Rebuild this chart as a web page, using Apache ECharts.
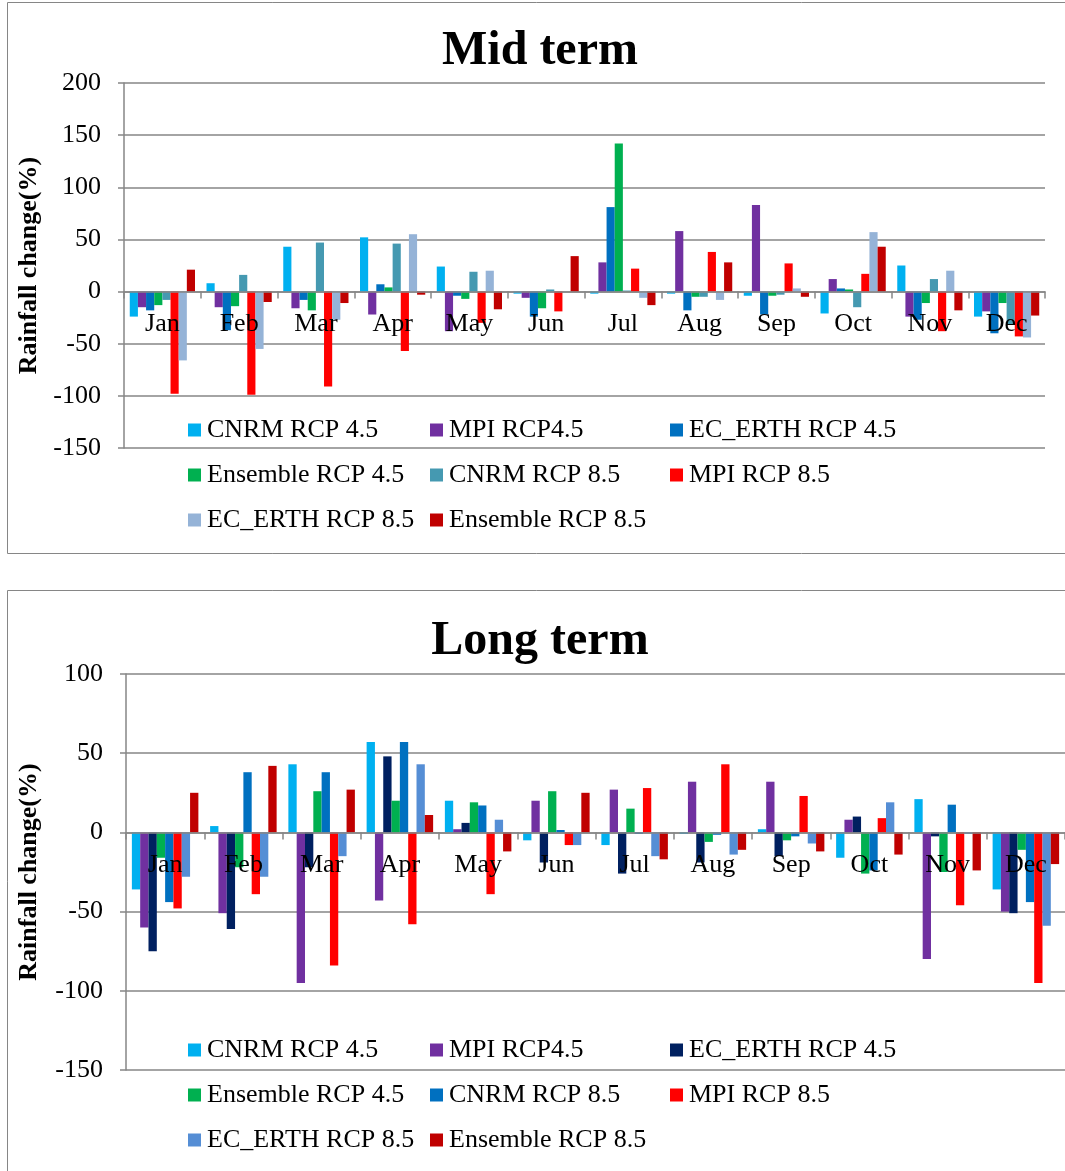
<!DOCTYPE html>
<html>
<head>
<meta charset="utf-8">
<script src="https://cdn.jsdelivr.net/npm/echarts@6/dist/echarts.min.js"></script>
<style>
html,body{margin:0;padding:0;background:#fff;}
#c1{position:absolute;left:0;top:0;width:1065px;height:585px;}
#c2{position:absolute;left:0;top:585px;width:1065px;height:586px;}
</style>
</head>
<body>
<div id="c1"></div>
<div id="c2"></div>
<script>
const months = ['Jan','Feb','Mar','Apr','May','Jun','Jul','Aug','Sep','Oct','Nov','Dec'];
const seriesNames = ['CNRM RCP 4.5','MPI RCP4.5','EC_ERTH RCP 4.5','Ensemble RCP 4.5','CNRM RCP 8.5','MPI RCP 8.5','EC_ERTH RCP 8.5','Ensemble RCP 8.5'];

// Mid term
const cnrm45Mid = [-24, 8, 43, 52, 24, -2, -2, -2, -4, -21, 25, -24];
const mpi45Mid  = [-15, -15, -16, -22, -38, -6, 28, 58, 83, 12, -24, -19];
const ec45Mid   = [-18, -37, -8, 7, -4, -24, 81, -18, -22, 3, -27, -40];
const ens45Mid  = [-13, -14, -18, 4, -7, -16, 142, -5, -4, 2, -11, -11];
const cnrm85Mid = [-8, 16, 47, 46, 19, 2, 1, -5, -3, -15, 12, -32];
const mpi85Mid  = [-98, -99, -91, -57, -30, -19, 22, 38, 27, 17, -38, -43];
const ec85Mid   = [-66, -55, -27, 55, 20, 0, -6, -8, 3, 57, 20, -44];
const ens85Mid  = [21, -10, -11, -3, -17, 34, -13, 28, -5, 43, -18, -23];

// Long term
const cnrm45Long = [-36, 4, 43, 57, 20, -5, -8, -1, 2, -16, 21, -36];
const mpi45Long  = [-60, -51, -95, -43, 2, 20, 27, 32, 32, 8, -80, -50];
const ec45Long   = [-75, -61, -22, 48, 6, -19, -26, -19, -15, 10, -2.5, -51];
const ens45Long  = [-16, -22, 26, 20, 19, 26, 15, -6, -5, -26, -25, -11];
const cnrm85Long = [-44, 38, 38, 57, 17, 1.5, -1, -1.5, -2.5, -24, 17.5, -44];
const mpi85Long  = [-48, -39, -84, -58, -39, -8, 28, 43, 23, 9, -46, -95];
const ec85Long   = [-28, -28, -15, 43, 8, -8, -15, -14, -7, 19, -1, -59];
const ens85Long  = [25, 42, 27, 11, -12, 25, -17, -11, -12, -14, -24, -20];

const midTicks = {min: -150, max: 200, interval: 50};
const longTicks = {min: -150, max: 100, interval: 50};

const midColors = ['#00B0F0','#7030A0','#0070C0','#00B050','#4599B1','#FF0000','#95B3D7','#C00000'];
const longColors = ['#00B0F0','#7030A0','#002060','#00B050','#0070C0','#FF0000','#558ED5','#C00000'];

const FONT = '"Liberation Serif","Times New Roman",serif';
const GRAY = '#868686';

function legends(colors, rowTops) {
  const cols = [188, 430, 670];
  return seriesNames.map((n, i) => ({
    data: [{name: n, itemStyle: {color: colors[i]}}],
    left: cols[i % 3],
    top: rowTops[Math.floor(i / 3)] - 12,
    padding: 0,
    itemWidth: 13,
    itemHeight: 13,
    itemGap: 0,
    icon: 'rect',
    selectedMode: false,
    textStyle: {fontFamily: FONT, fontSize: 26, color: '#000', lineHeight: 26, padding: [0, 0, 0, 1]}
  }));
}

function buildOption(cfg) {
  // distance from grid bottom to the zero line, so the category axis sits at 0
  const zeroFromBottom = (0 - cfg.ticks.min) / (cfg.ticks.max - cfg.ticks.min) * cfg.gridHeight;
  return {
    animation: false,
    color: cfg.colors,
    graphic: [
      {type: 'rect', shape: {x: 7.5, y: cfg.frameTop + 0.5, width: 1080, height: cfg.frameHeight},
       style: {fill: 'none', stroke: GRAY, lineWidth: 1}, silent: true, z: 0},
      {type: 'text', x: 540, y: cfg.titleY,
       style: {text: cfg.title, fontFamily: FONT, fontSize: 48, fontWeight: 'bold', fill: '#000',
               align: 'center', verticalAlign: 'middle'}, z: 10}
    ],
    legend: legends(cfg.colors, cfg.legendRows),
    grid: {left: cfg.gridLeft, top: cfg.gridTop, width: cfg.gridWidth, height: cfg.gridHeight, containLabel: false},
    xAxis: {
      type: 'category',
      data: months,
      z: 3,
      position: 'bottom',
      offset: -zeroFromBottom,
      axisLine: {onZero: false, lineStyle: {color: GRAY, width: 1.5}},
      axisTick: {show: true, length: 7, lineStyle: {color: GRAY, width: 1.5}},
      axisLabel: {interval: 0, fontFamily: FONT, fontSize: 26, color: '#000', margin: 20}
    },
    yAxis: {
      type: 'value',
      min: cfg.ticks.min, max: cfg.ticks.max, interval: cfg.ticks.interval,
      name: 'Rainfall change(%)',
      nameLocation: 'middle',
      nameGap: cfg.nameGap,
      nameTextStyle: {fontFamily: FONT, fontSize: 26, fontWeight: 'bold', color: '#000'},
      axisLine: {show: true, lineStyle: {color: GRAY, width: 1.5}},
      axisTick: {show: true, length: 6, lineStyle: {color: GRAY, width: 1.5}},
      axisLabel: {fontFamily: FONT, fontSize: 26, color: '#000', margin: 23},
      splitLine: {show: true, lineStyle: {color: GRAY, width: 1.5}}
    },
    series: cfg.data.map((d, i) => ({
      name: seriesNames[i],
      type: 'bar',
      data: d,
      barGap: '0%',
      barCategoryGap: '15%',
      itemStyle: {color: cfg.colors[i]}
    }))
  };
}

const c1 = echarts.init(document.getElementById('c1'), null, {renderer: 'canvas'});
c1.setOption(buildOption({
  colors: midColors, title: 'Mid term', titleY: 52, frameTop: 2, frameHeight: 551,
  legendRows: [429, 474, 519],
  gridLeft: 124, gridTop: 83, gridWidth: 921, gridHeight: 365, nameGap: 82,
  ticks: midTicks,
  data: [cnrm45Mid, mpi45Mid, ec45Mid, ens45Mid, cnrm85Mid, mpi85Mid, ec85Mid, ens85Mid]
}));

const c2 = echarts.init(document.getElementById('c2'), null, {renderer: 'canvas'});
c2.setOption(buildOption({
  colors: longColors, title: 'Long term', titleY: 57, frameTop: 5, frameHeight: 700,
  legendRows: [464, 509, 554],
  gridLeft: 126, gridTop: 89, gridWidth: 948, gridHeight: 396, nameGap: 84,
  ticks: longTicks,
  data: [cnrm45Long, mpi45Long, ec45Long, ens45Long, cnrm85Long, mpi85Long, ec85Long, ens85Long]
}));
</script>
</body>
</html>
